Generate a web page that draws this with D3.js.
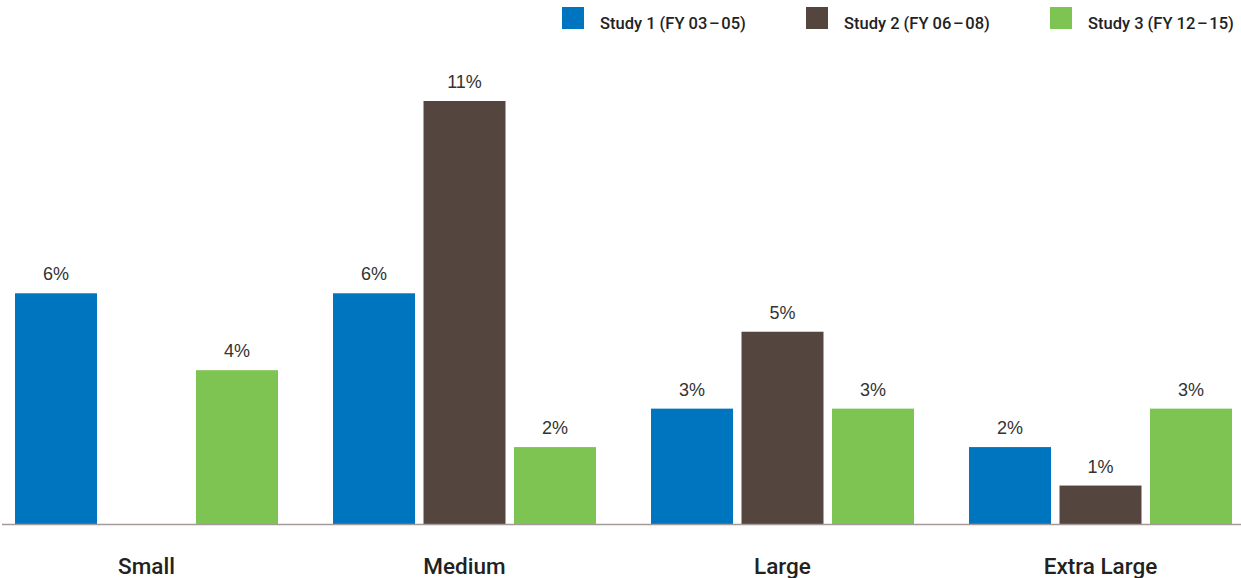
<!DOCTYPE html>
<html>
<head>
<meta charset="utf-8">
<script src="https://cdn.jsdelivr.net/npm/d3@7"></script>
<style>
  body { margin: 0; background: #fff; }
  svg { display: block; font-family: 'Liberation Sans', Arial, sans-serif; }
</style>
</head>
<body>
<div id="chart"></div>
<script>
// data
const categories = ['Small', 'Medium', 'Large', 'Extra Large'];
const seriesNames = ['Study 1 (FY 03\u200a\u2013\u200a05)', 'Study 2 (FY 06\u200a\u2013\u200a08)', 'Study 3 (FY 12\u200a\u2013\u200a15)'];
const study1 = [6, 6, 3, 2];
const study2 = [null, 11, 5, 1];
const study3 = [4, 2, 3, 3];
const seriesColors = ['#0075BF', '#54463F', '#7DC452'];

const width = 1241;
const height = 578;

const series = [study1, study2, study3];
const rows = categories.map((c, i) => ({
    cat: c,
    vals: series.map((s, j) => ({key: seriesNames[j], idx: j, value: s[i]}))
}));

const mySVG = d3.select('#chart')
    .append('svg')
        .attr('width', width)
        .attr('height', height);

//outer band scale for categories
const x0 = d3.scaleBand()
    .domain(categories)
    .range([-12.5, 1259.5])
    .paddingInner(0.173)
    .paddingOuter(0.0865);

//inner band scale for the three studies
const x1 = d3.scaleBand()
    .domain(seriesNames)
    .range([0, x0.bandwidth()])
    .paddingInner(0.094)
    .paddingOuter(0);

const y = d3.scaleLinear()
    .domain([0, 11])
    .range([524, 101]);

//bars
const groups = mySVG.append('g')
    .selectAll('g')
    .data(rows)
    .join('g')
        .attr('transform', d => `translate(${x0(d.cat)},0)`);

groups.selectAll('rect')
    .data(d => d.vals.filter(v => v.value != null))
    .join('rect')
        .attr('x', d => x1(d.key))
        .attr('y', d => y(d.value))
        .attr('width', x1.bandwidth())
        .attr('height', d => y(0) - y(d.value))
        .attr('fill', d => seriesColors[d.idx]);

//value labels
groups.selectAll('text')
    .data(d => d.vals.filter(v => v.value != null))
    .join('text')
        .attr('x', d => x1(d.key) + x1.bandwidth() / 2)
        .attr('y', d => y(d.value) - 13)
        .attr('text-anchor', 'middle')
        .style('font-size', '18px')
        .style('fill', '#333')
        .text(d => d.value + '%');

//baseline
mySVG.append('line')
    .attr('x1', 2)
    .attr('x2', width)
    .attr('y1', y(0) + 0.5)
    .attr('y2', y(0) + 0.5)
    .style('stroke', '#a39a98')
    .style('stroke-width', 1.5);

//category labels
mySVG.append('g')
    .selectAll('text')
    .data(categories)
    .join('text')
        .attr('x', d => x0(d) + x0.bandwidth() / 2)
        .attr('y', 574)
        .attr('text-anchor', 'middle')
        .style('font-family', 'Roboto, sans-serif')
        .style('font-size', '22.5px')
        .style('font-weight', 500)
        .style('fill', '#222')
        .text(d => d);

//legend
const legend = mySVG.append('g')
    .selectAll('g')
    .data(seriesNames)
    .join('g')
        .attr('transform', (d, i) => `translate(${562 + i * 244},7)`);

legend.append('rect')
    .attr('width', 22)
    .attr('height', 22)
    .attr('fill', (d, i) => seriesColors[i]);

legend.append('text')
    .attr('x', 38)
    .attr('y', 21.5)
    .style('font-family', 'Roboto, sans-serif')
    .style('font-size', '16.5px')
    .style('font-weight', 500)
    .style('fill', '#222')
    .text(d => d);
</script>
</body>
</html>
